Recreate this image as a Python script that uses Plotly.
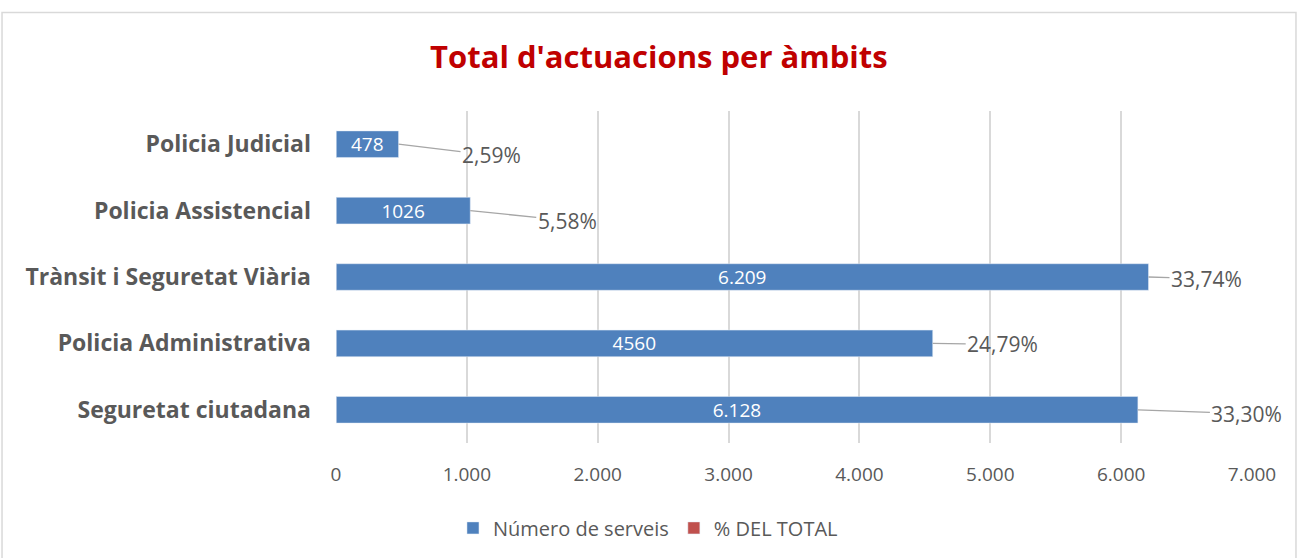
import plotly.graph_objects as go

# === dades ===
AMBITS = [
    "Policia Judicial",
    "Policia Assistencial",
    "Trànsit i Seguretat Viària",
    "Policia Administrativa",
    "Seguretat ciutadana",
]
SERVEIS = [478, 1026, 6209, 4560, 6128]
SERVEIS_TXT = ["478", "1026", "6.209", "4560", "6.128"]
PCT_TOTAL = [0.0259, 0.0558, 0.3374, 0.2479, 0.3330]

# offsets de les etiquetes de % (px) respecte al final de la barra
LABEL_DX = [93, 97, 58, 70, 109]
LABEL_DY = [11, 10, 2, 1, 4]

COLOR_BLAU = "#4F81BD"
COLOR_VERMELL = "#C0504D"
COLOR_TEXT = "#595959"
COLOR_GRID = "#D9D9D9"
FONT = "Open Sans"

fig = go.Figure()

fig.add_trace(go.Bar(
    y=AMBITS,
    x=SERVEIS,
    orientation="h",
    name="Número de serveis",
    marker=dict(color=COLOR_BLAU),
    width=0.4,
    text=SERVEIS_TXT,
    textposition="inside",
    insidetextanchor="middle",
    constraintext="none",
    textfont=dict(color="white", size=19, family=FONT),
    hoverinfo="x+y",
))

# sèrie de % (només es veu a la llegenda i a les etiquetes)
fig.add_trace(go.Bar(
    y=AMBITS,
    x=PCT_TOTAL,
    orientation="h",
    name="% DEL TOTAL",
    marker=dict(color=COLOR_VERMELL),
    width=0.4,
    hoverinfo="skip",
))

for amb, val, pct, dx, dy in zip(AMBITS, SERVEIS, PCT_TOTAL, LABEL_DX, LABEL_DY):
    fig.add_annotation(
        x=val, y=amb,
        text=f"{pct * 100:.2f}%".replace(".", ","),
        showarrow=True,
        arrowhead=0,
        arrowwidth=1.3,
        arrowcolor="#A6A6A6",
        ax=dx, ay=dy,
        standoff=0,
        font=dict(size=21, color=COLOR_TEXT, family=FONT),
    )

# marc del gràfic
fig.add_shape(
    type="rect", xref="paper", yref="paper",
    x0=-0.3646, x1=1.048, y0=-0.36, y1=1.297,
    line=dict(color=COLOR_GRID, width=1.5),
    layer="below",
)

fig.update_layout(
    width=1297,
    height=558,
    paper_bgcolor="white",
    plot_bgcolor="white",
    separators=",.",
    barmode="overlay",
    margin=dict(l=336, r=45, t=111, b=114),
    font=dict(family=FONT, color=COLOR_TEXT),
    title=dict(
        text="<b>Total d'actuacions per àmbits</b>",
        font=dict(size=31, color="#C00000", family=FONT),
        x=0.508, xanchor="center",
        y=0.898, yanchor="middle",
    ),
    xaxis=dict(
        range=[0, 7000],
        dtick=1000,
        tickformat=",d",
        showgrid=True,
        gridcolor=COLOR_GRID,
        gridwidth=1.5,
        zeroline=False,
        showline=False,
        ticks="",
        tickfont=dict(size=19, color=COLOR_TEXT, family=FONT),
        ticklabelstandoff=18,
        fixedrange=True,
    ),
    yaxis=dict(
        autorange="reversed",
        showgrid=False,
        showline=False,
        ticks="",
        ticklabelstandoff=24,
        tickfont=dict(size=23, color=COLOR_TEXT, family=FONT),
        tickprefix="<b>", ticksuffix="</b>",
        fixedrange=True,
    ),
    legend=dict(
        orientation="h",
        x=0.1277, xanchor="left",
        y=-0.252, yanchor="middle",
        font=dict(size=20, color=COLOR_TEXT, family=FONT),
        traceorder="normal",
        itemwidth=30,
    ),
    showlegend=True,
)

fig.write_html(
    "out.html",
    config={"displayModeBar": False},
    post_script="document.body.style.margin='0';",
)
